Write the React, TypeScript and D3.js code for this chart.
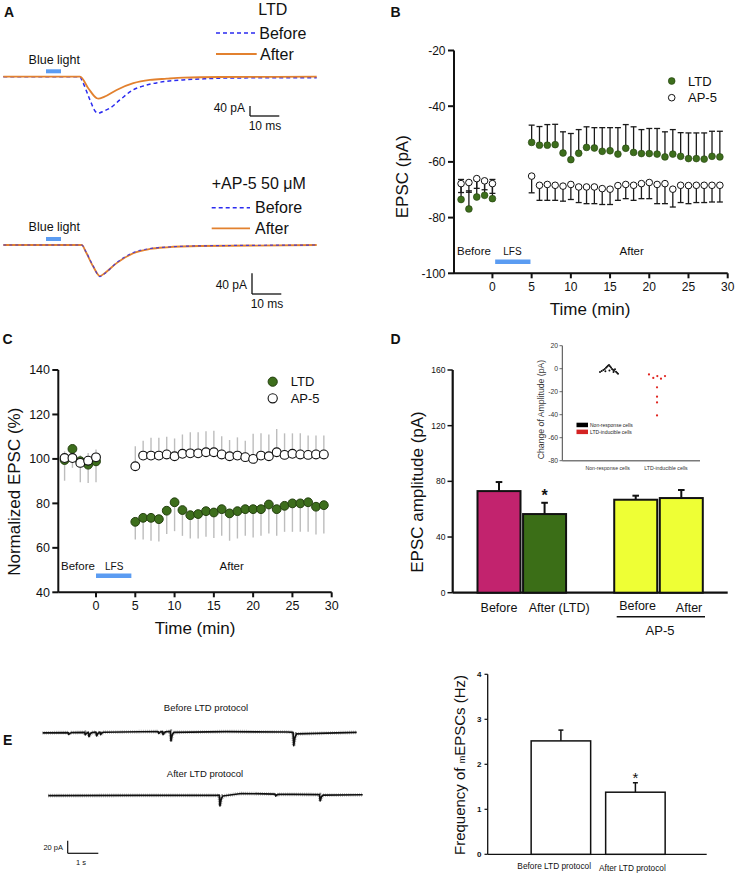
import React from 'react';
import * as d3 from 'd3';

const FONT = '"Liberation Sans", Arial, Helvetica, sans-serif';
const LIGHT_BLUE = '#5b9cf2';
const GREEN = '#3d6e1c';
const GREEN_EDGE = '#24400f';
const ORANGE = '#e2812f';
const DASH_BLUE = '#2b2bf0';

// ---------------- Panel A: evoked EPSC traces (time in ms, current in pA) ----------------
const aTopBeforeMs = [0, 26.2, 26.8, 29.6, 31.3, 32.4, 34.4, 36.4, 39.8, 44.3, 47.8, 53.5, 61.3, 69.4, 78.4, 107];
const aTopBeforePA = [0, 0, -13, -93, -137, -146, -137, -126, -93, -53, -37, -22, -13, -8, -5, -4];
const aTopAfterMs = [0, 26.2, 29.0, 31.9, 32.4, 34.4, 38.7, 44.4, 50.1, 55.8, 61.4, 74, 107];
const aTopAfterPA = [0, 0, -46, -86, -88, -81, -53, -26, -13, -8, -4, -1.2, 0];
const aBotMs = [0, 26.8, 28.2, 30.6, 33.0, 34.7, 38.7, 44.4, 50.1, 55.8, 67.1, 107];
const aBotBeforePA = [0, 0, -12.6, -39.6, -61, -55, -34, -14.5, -6.8, -4, -1.7, 0];
const aBotAfterPA = [0, 0, -13.5, -40.6, -60, -54, -35, -16, -7.7, -4.4, -1.9, 0];

// ---------------- Panel B: EPSC (pA) over time ----------------
const timeBefore = [-4, -3, -2, -1, 0];
const timeAfter = [5, 6, 7, 8, 9, 10, 11, 12, 13, 14, 15, 16, 17, 18, 19, 20, 21, 22, 23, 24, 25, 26, 27, 28, 29];
const bTicksY = [-100, -80, -60, -40, -20];
const xTicksTime = [0, 5, 10, 15, 20, 25, 30];
const bLtdBefore = [-73.5, -76.9, -72.6, -72.0, -73.2];
const bLtdBeforeSem = [7.2, 6.5, 6.0, 5.5, 6.9];
const bAp5Before = [-67.8, -67.4, -66.0, -66.8, -67.8];
const bAp5BeforeSem = [3.2, 3.5, 3.5, 3.2, 3.5];
const bLtdAfter = [-53.0, -54.0, -54.0, -53.8, -56.8, -59.2, -56.9, -54.8, -55.0, -56.2, -56.0, -57.2, -55.1, -56.6, -57.0, -57.0, -57.2, -58.2, -57.2, -58.0, -58.8, -58.8, -59.0, -58.0, -58.2];
const bLtdAfterSem = [6.2, 6.7, 7.4, 7.3, 7.6, 9.4, 8.5, 7.4, 7.3, 8.5, 8.3, 9.5, 8.5, 9.2, 8.6, 9.0, 9.2, 9.0, 8.8, 8.5, 9.2, 9.2, 9.4, 9.0, 9.2];
const bAp5After = [-65.1, -68.4, -68.1, -68.4, -68.7, -68.1, -69.0, -69.0, -69.0, -69.6, -69.8, -68.5, -68.1, -68.4, -67.8, -67.4, -68.1, -67.8, -69.8, -68.4, -68.5, -68.4, -68.4, -68.4, -68.4];
const bAp5AfterSem = [6.0, 5.4, 5.7, 5.4, 5.4, 5.4, 5.6, 6.0, 6.0, 5.7, 5.5, 5.3, 5.1, 5.4, 5.4, 5.8, 6.9, 7.2, 6.4, 6.2, 6.5, 6.2, 6.2, 6.0, 6.0];

// ---------------- Panel C: normalized EPSC (%) ----------------
const cTicksY = [40, 60, 80, 100, 120, 140];
const cLtdBefore = [99.5, 104.5, 99.0, 97.4, 98.9];
const cLtdBeforeSem = [9.3, 8.5, 9.5, 8.2, 9.4];
const cAp5Before = [100.4, 100.4, 98.2, 99.2, 100.7];
const cAp5BeforeSem = [3, 3, 3.5, 3.5, 3.5];
const cLtdAfter = [71.7, 73.5, 73.5, 72.9, 76.7, 80.5, 77.0, 74.7, 75.2, 76.5, 75.9, 77.4, 75.5, 76.5, 77.4, 77.4, 77.4, 79.5, 77.4, 78.9, 80.0, 80.0, 80.5, 78.5, 79.2];
const cLtdAfterSem = [8, 9.7, 10.3, 10, 10.5, 13, 11.6, 10.5, 11, 11.5, 11.5, 12, 12.3, 12.3, 12, 12.8, 12, 13, 12, 11.7, 12.8, 12.8, 13.3, 12.5, 12.7];
const cAp5After = [96.7, 101.5, 101.5, 101.5, 102, 101.2, 102.3, 102.5, 102.5, 103, 103, 102, 101.2, 101.5, 100.8, 100, 101.5, 101.2, 103, 101.8, 102.3, 102, 101.8, 102, 102];
const cAp5AfterSem = [9, 6.7, 8, 8, 8, 8, 8.7, 9.5, 9.5, 9.4, 9.7, 8.2, 7.3, 8.2, 7.4, 11.3, 10, 9.8, 10.5, 9.7, 9.2, 9.5, 8.7, 8.5, 8.5];

// ---------------- Panel D: EPSC amplitude bars + inset ----------------
const dLabels = ['Before', 'After (LTD)', 'Before', 'After'];
const dSlots = [0, 1, 3, 4];
const dLabelShift = [0, 0.32, 0.04, 0.17];
const dValues = [73.0, 56.5, 66.8, 68.0];
const dSem = [6.5, 8.1, 2.9, 5.8];
const dColors = ['#c2236e', '#3b6e17', '#eeff35', '#eeff35'];
const dTicksY = [0, 40, 80, 120, 160];
const insetTicksY = [-80, -60, -40, -20, 0, 20];
const insetCats = ['Non-response cells', 'LTD-inducible cells'];
const insetBlackX = [-0.132, -0.103, -0.075, -0.051, -0.029, -0.012, 0.005, 0.022, 0.039, 0.057, 0.074, 0.091, 0.108, 0.125, 0.142, 0.16, 0.177, 0.03, -0.04, 0.1];
const insetBlackVal = [-2.9, -2.0, -1.2, -0.3, 0.8, 1.6, 2.6, 3.3, 2.2, 1.0, -0.2, -1.0, -1.8, -0.5, -2.6, -3.5, -4.3, -1.5, -2.2, -2.8];
const insetRedX = [0.708, 0.782, 0.851, 0.914, 0.983, 0.846, 0.846, 0.846, 0.846];
const insetRedVal = [-5, -8, -6.4, -8.7, -6.4, -16.2, -24.3, -29.3, -40.6];

// ---------------- Panel E: mEPSC traces and frequency ----------------
const eDurS = 10.26;
const eBeforeBaseT = [0, 2, 4.3, 6, 8, 8.3, 10.26];
const eBeforeBasePA = [-1, 0.5, 1.5, 1, 0.5, -0.5, 0];
const eBeforeEventT = [0.84, 1.38, 1.5, 1.75, 1.88, 3.78, 3.92, 4.18, 8.19];
const eBeforeEventPA = [3, 4, 7, 6, 4, 3, 5, 15, 21];
const eAfterBaseT = [0, 3, 5.5, 6.3, 8, 10.26];
const eAfterBasePA = [0, 0.5, 0.5, 3.5, 2, 1.5];
const eAfterEventT = [5.59, 7.41, 8.86];
const eAfterEventPA = [17, 3, 10];
const eLabels = ['Before LTD protocol', 'After LTD protocol'];
const eLabelShift = [-0.09, -0.04];
const eFreq = [2.52, 1.38];
const eFreqSem = [0.24, 0.21];
const eTicksY = [0, 1, 2, 3, 4];

function buildTrace(baseT: number[], basePA: number[], evT: number[], evPA: number[]) {
  const base = d3.scaleLinear().domain(baseT).range(basePA);
  const pts: [number, number][] = [];
  const inEvent = (t: number) => evT.some(e => t > e - 0.02 && t < e + 0.13);
  baseT.forEach((t, i) => { if (!inEvent(t)) pts.push([t, basePA[i]]); });
  evT.forEach((t, i) => {
    const a = evPA[i];
    pts.push([t - 0.01, base(t - 0.01)]);
    pts.push([t + 0.012, base(t) - a]);
    pts.push([t + 0.05, base(t + 0.05) - a * 0.4]);
    pts.push([t + 0.1, base(t + 0.1) - a * 0.1]);
  });
  pts.sort((p, q) => p[0] - q[0]);
  return pts;
}

const Txt = (p: any) => <text fontFamily={FONT} fill="#111" {...p} />;

export default function App() {
  // ---- A ----
  const xA = d3.scaleLinear().domain([0, 107]).range([3.3, 316.7]);
  const yATop = d3.scaleLinear().domain([-160, 0]).range([116.7, 76.7]);
  const yABot = d3.scaleLinear().domain([-60, 0]).range([276.05, 245]);
  const traceA = (ms: number[], pa: number[], y: any) =>
    d3.line<number>().x((_, i) => xA(ms[i])).y((_, i) => y(pa[i])).curve(d3.curveMonotoneX)(ms) || '';

  // ---- B ----
  const xB = d3.scaleLinear().domain([-4.9, 30]).range([454, 727.7]);
  const yB = d3.scaleLinear().domain([-100, -20]).range([273.3, 50.5]);
  // ---- C ----
  const xC = d3.scaleLinear().domain([-4.8, 30]).range([58.3, 331.7]);
  const yC = d3.scaleLinear().domain([40, 140]).range([592.3, 370]);
  // ---- D ----
  const xD = d3.scaleLinear().domain([0, 4]).range([499, 681.3]);
  const yD = d3.scaleLinear().domain([0, 160]).range([592.7, 370]);
  const dBarW = 43;
  const xI = d3.scaleLinear().domain([0, 1]).range([607.7, 666]);
  const yI = d3.scaleLinear().domain([-80, 20]).range([460.7, 345.7]);
  // ---- E ----
  const xE1 = d3.scaleLinear().domain([0, eDurS]).range([42.7, 356.7]);
  const xE2 = d3.scaleLinear().domain([0, eDurS]).range([48.3, 362.7]);
  const yE1 = d3.scaleLinear().domain([-20, 0]).range([744.9, 732.3]);
  const yE2 = d3.scaleLinear().domain([-20, 0]).range([808.3, 795.7]);
  const tr1 = buildTrace(eBeforeBaseT, eBeforeBasePA, eBeforeEventT, eBeforeEventPA);
  const tr2 = buildTrace(eAfterBaseT, eAfterBasePA, eAfterEventT, eAfterEventPA);
  const pathE1 = d3.line<[number, number]>().x(d => xE1(d[0])).y(d => yE1(d[1]))(tr1) || '';
  const pathE2 = d3.line<[number, number]>().x(d => xE2(d[0])).y(d => yE2(d[1]))(tr2) || '';
  const xER = d3.scaleLinear().domain([0, 1]).range([560.9, 635.4]);
  const yER = d3.scaleLinear().domain([0, 4]).range([854.3, 674.3]);
  const eBarW = 59.5;

  const errB = (xs: number[], vals: number[], sem: number[], dir: number, key: string) =>
    xs.map((t, i) => {
      const x = xB(t);
      const y0 = yB(vals[i]);
      const y1 = yB(vals[i] + dir * sem[i]);
      return (
        <g key={key + i} stroke="#1a1a1a" strokeWidth={1.3}>
          <line x1={x} x2={x} y1={y0} y2={y1} />
          <line x1={x - 3} x2={x + 3} y1={y1} y2={y1} />
        </g>
      );
    });
  const errC = (xs: number[], vals: number[], sem: number[], dir: number, key: string) =>
    xs.map((t, i) => (
      <line key={key + i} x1={xC(t)} x2={xC(t)} y1={yC(vals[i])} y2={yC(vals[i] + dir * sem[i])} stroke="#bdbdbd" strokeWidth={1.4} />
    ));

  return (
    <svg width={736} height={874} style={{ position: 'absolute', left: 0, top: 0, background: '#fff' }}>
      <rect x={0} y={0} width={736} height={874} fill="#fff" />
      {/* panel letters */}
      <Txt x={4} y={16.5} fontSize={14} fontWeight="bold">A</Txt>
      <Txt x={390.5} y={16.5} fontSize={14} fontWeight="bold">B</Txt>
      <Txt x={2.5} y={344} fontSize={14} fontWeight="bold">C</Txt>
      <Txt x={390.5} y={344} fontSize={14} fontWeight="bold">D</Txt>
      <Txt x={3} y={745} fontSize={14} fontWeight="bold">E</Txt>

      {/* ================= A ================= */}
      <Txt x={258.3} y={14.7} fontSize={16}>LTD</Txt>
      <line x1={216} x2={256.7} y1={33} y2={33} stroke={DASH_BLUE} strokeWidth={1.5} strokeDasharray="4 3" />
      <Txt x={259.3} y={39} fontSize={16}>Before</Txt>
      <line x1={216} x2={256.7} y1={54} y2={54} stroke={ORANGE} strokeWidth={1.8} />
      <Txt x={260} y={59.7} fontSize={16}>After</Txt>
      <rect x={46} y={69.3} width={15} height={4} fill={LIGHT_BLUE} />
      <Txt x={54.3} y={63.5} fontSize={12.5} textAnchor="middle">Blue light</Txt>
      <path d={traceA(aTopBeforeMs, aTopBeforePA, yATop)} fill="none" stroke={DASH_BLUE} strokeWidth={1.5} strokeDasharray="4 3" />
      <path d={traceA(aTopAfterMs, aTopAfterPA, yATop)} fill="none" stroke={ORANGE} strokeWidth={1.8} />
      <line x1={250} x2={250} y1={106} y2={106 + (yATop(-40) - yATop(0))} stroke="#111" strokeWidth={1.3} />
      <line x1={250} x2={250 + (xA(10) - xA(0))} y1={106 + (yATop(-40) - yATop(0))} y2={106 + (yATop(-40) - yATop(0))} stroke="#111" strokeWidth={1.3} />
      <Txt x={245} y={112} fontSize={12} textAnchor="end">40 pA</Txt>
      <Txt x={265} y={130.3} fontSize={12} textAnchor="middle">10 ms</Txt>

      <Txt x={211.7} y={189} fontSize={16}>+AP-5 50 μM</Txt>
      <line x1={211.7} x2={250} y1={207.7} y2={207.7} stroke={DASH_BLUE} strokeWidth={1.5} strokeDasharray="4 3" />
      <Txt x={255} y={213.4} fontSize={16}>Before</Txt>
      <line x1={211.7} x2={250} y1={228.3} y2={228.3} stroke={ORANGE} strokeWidth={1.8} />
      <Txt x={255} y={234} fontSize={16}>After</Txt>
      <rect x={46} y={237} width={15} height={4} fill={LIGHT_BLUE} />
      <Txt x={54.3} y={230.5} fontSize={12.5} textAnchor="middle">Blue light</Txt>
      <path d={traceA(aBotMs, aBotAfterPA, yABot)} fill="none" stroke={ORANGE} strokeWidth={1.8} />
      <path d={traceA(aBotMs, aBotBeforePA, yABot)} fill="none" stroke={DASH_BLUE} strokeWidth={1.2} strokeDasharray="3 3" opacity={0.8} />
      <line x1={252} x2={252} y1={273.3} y2={273.3 + (yABot(-40) - yABot(0))} stroke="#111" strokeWidth={1.3} />
      <line x1={252} x2={252 + (xA(10) - xA(0))} y1={273.3 + (yABot(-40) - yABot(0))} y2={273.3 + (yABot(-40) - yABot(0))} stroke="#111" strokeWidth={1.3} />
      <Txt x={247} y={289} fontSize={12} textAnchor="end">40 pA</Txt>
      <Txt x={267} y={308.3} fontSize={12} textAnchor="middle">10 ms</Txt>

      {/* ================= B ================= */}
      <line x1={xB(-4.9)} x2={xB(-4.9)} y1={yB(-20)} y2={yB(-100)} stroke="#111" strokeWidth={2} />
      <line x1={xB(-4.9)} x2={xB(30)} y1={yB(-100)} y2={yB(-100)} stroke="#111" strokeWidth={2} />
      {bTicksY.map(v => (
        <g key={'by' + v}>
          <line x1={xB(-4.9) - 6} x2={xB(-4.9)} y1={yB(v)} y2={yB(v)} stroke="#111" strokeWidth={2} />
          <Txt x={445.5} y={yB(v) + 4.3} fontSize={12} textAnchor="end">{v}</Txt>
        </g>
      ))}
      {xTicksTime.map(v => (
        <g key={'bx' + v}>
          <line x1={xB(v)} x2={xB(v)} y1={yB(-100)} y2={yB(-100) + 5} stroke="#111" strokeWidth={2} />
          <Txt x={xB(v)} y={291} fontSize={12} textAnchor="middle">{v}</Txt>
        </g>
      ))}
      <Txt transform="translate(408.3,176.7) rotate(-90)" fontSize={17} textAnchor="middle">EPSC (pA)</Txt>
      <Txt x={590} y={315} fontSize={17} textAnchor="middle">Time (min)</Txt>
      {errB(timeBefore, bLtdBefore, bLtdBeforeSem, 1, 'ebl')}
      {errB(timeAfter, bLtdAfter, bLtdAfterSem, 1, 'eal')}
      {errB(timeBefore, bAp5Before, bAp5BeforeSem, -1, 'ebp')}
      {errB(timeAfter, bAp5After, bAp5AfterSem, -1, 'eap')}
      {timeBefore.map((t, i) => <circle key={'bbl' + i} cx={xB(t)} cy={yB(bLtdBefore[i])} r={3.4} fill={GREEN} stroke={GREEN_EDGE} strokeWidth={0.6} />)}
      {timeAfter.map((t, i) => <circle key={'bal' + i} cx={xB(t)} cy={yB(bLtdAfter[i])} r={3.4} fill={GREEN} stroke={GREEN_EDGE} strokeWidth={0.6} />)}
      {timeBefore.map((t, i) => <circle key={'bbp' + i} cx={xB(t)} cy={yB(bAp5Before[i])} r={3.3} fill="#fff" stroke="#111" strokeWidth={1} />)}
      {timeAfter.map((t, i) => <circle key={'bap' + i} cx={xB(t)} cy={yB(bAp5After[i])} r={3.3} fill="#fff" stroke="#111" strokeWidth={1} />)}
      <circle cx={671.7} cy={81} r={3.4} fill={GREEN} stroke={GREEN_EDGE} strokeWidth={0.6} />
      <Txt x={688} y={85.6} fontSize={13}>LTD</Txt>
      <circle cx={671.7} cy={97.7} r={3.3} fill="#fff" stroke="#111" strokeWidth={1} />
      <Txt x={688} y={102.3} fontSize={13}>AP-5</Txt>
      <Txt x={457} y={255} fontSize={11.5}>Before</Txt>
      <Txt x={503.3} y={254.5} fontSize={10}>LFS</Txt>
      <rect x={xB(0.35)} y={259.5} width={xB(4.85) - xB(0.35)} height={4.5} fill={LIGHT_BLUE} />
      <Txt x={631.7} y={255} fontSize={11.5} textAnchor="middle">After</Txt>

      {/* ================= C ================= */}
      <line x1={xC(-4.8)} x2={xC(-4.8)} y1={yC(140)} y2={yC(40)} stroke="#111" strokeWidth={2} />
      <line x1={xC(-4.8)} x2={xC(30)} y1={yC(40)} y2={yC(40)} stroke="#111" strokeWidth={2} />
      {cTicksY.map(v => (
        <g key={'cy' + v}>
          <line x1={xC(-4.8) - 6} x2={xC(-4.8)} y1={yC(v)} y2={yC(v)} stroke="#111" strokeWidth={2} />
          <Txt x={50} y={yC(v) + 4.4} fontSize={12.5} textAnchor="end">{v}</Txt>
        </g>
      ))}
      {xTicksTime.map(v => (
        <g key={'cx' + v}>
          <line x1={xC(v)} x2={xC(v)} y1={yC(40)} y2={yC(40) + 5} stroke="#111" strokeWidth={2} />
          <Txt x={xC(v)} y={610} fontSize={12.5} textAnchor="middle">{v}</Txt>
        </g>
      ))}
      <Txt transform="translate(20,491.7) rotate(-90)" fontSize={17} textAnchor="middle">Normalized EPSC (%)</Txt>
      <Txt x={195} y={634} fontSize={17} textAnchor="middle">Time (min)</Txt>
      {errC(timeBefore, cLtdBefore, cLtdBeforeSem, -1, 'cbl')}
      {errC(timeAfter, cLtdAfter, cLtdAfterSem, -1, 'cal')}
      {errC(timeBefore, cAp5Before, cAp5BeforeSem, 1, 'cbp')}
      {errC(timeAfter, cAp5After, cAp5AfterSem, 1, 'cap')}
      {timeBefore.map((t, i) => <circle key={'cbl' + i} cx={xC(t)} cy={yC(cLtdBefore[i])} r={4.4} fill={GREEN} stroke={GREEN_EDGE} strokeWidth={1} />)}
      {timeAfter.map((t, i) => <circle key={'cal' + i} cx={xC(t)} cy={yC(cLtdAfter[i])} r={4.4} fill={GREEN} stroke={GREEN_EDGE} strokeWidth={1} />)}
      {timeBefore.map((t, i) => <circle key={'cbp' + i} cx={xC(t)} cy={yC(cAp5Before[i])} r={4.4} fill="#fff" stroke="#111" strokeWidth={1.1} />)}
      {timeAfter.map((t, i) => <circle key={'cap' + i} cx={xC(t)} cy={yC(cAp5After[i])} r={4.4} fill="#fff" stroke="#111" strokeWidth={1.1} />)}
      <circle cx={272.7} cy={381.7} r={4.6} fill={GREEN} stroke={GREEN_EDGE} strokeWidth={1} />
      <Txt x={290.7} y={386.4} fontSize={13}>LTD</Txt>
      <circle cx={272.7} cy={398.3} r={4.6} fill="#fff" stroke="#111" strokeWidth={1.1} />
      <Txt x={290.7} y={403} fontSize={13}>AP-5</Txt>
      <Txt x={61} y={570} fontSize={11.5}>Before</Txt>
      <Txt x={105} y={569.5} fontSize={10}>LFS</Txt>
      <rect x={xC(0)} y={573.5} width={xC(4.5) - xC(0)} height={4.5} fill={LIGHT_BLUE} />
      <Txt x={231.7} y={570} fontSize={11.5} textAnchor="middle">After</Txt>

      {/* ================= D ================= */}
      <line x1={452.7} x2={452.7} y1={yD(160)} y2={yD(0)} stroke="#111" strokeWidth={2.2} />
      <line x1={452.7} x2={727.7} y1={yD(0)} y2={yD(0)} stroke="#111" strokeWidth={2.2} />
      {dTicksY.map(v => (
        <g key={'dy' + v}>
          <line x1={447.5} x2={452.7} y1={yD(v)} y2={yD(v)} stroke="#111" strokeWidth={1.5} />
          <Txt x={445.5} y={yD(v) + 3} fontSize={8.5} textAnchor="end">{v}</Txt>
        </g>
      ))}
      <Txt transform="translate(423.3,492) rotate(-90)" fontSize={17} textAnchor="middle">EPSC amplitude (pA)</Txt>
      {dValues.map((v, i) => {
        const cx = xD(dSlots[i]);
        const top = yD(v);
        const et = yD(v + dSem[i]);
        return (
          <g key={'db' + i}>
            <line x1={cx} x2={cx} y1={top} y2={et} stroke="#111" strokeWidth={2} />
            <line x1={cx - 3.3} x2={cx + 3.3} y1={et} y2={et} stroke="#111" strokeWidth={2} />
            <rect x={cx - dBarW / 2} y={top} width={dBarW} height={yD(0) - top} fill={dColors[i]} stroke="#111" strokeWidth={2} />
          </g>
        );
      })}
      <Txt x={xD(1)} y={501} fontSize={16} fontWeight="bold" textAnchor="middle">*</Txt>
      {dLabels.map((l, i) => (
        <Txt key={'dl' + i} x={xD(dSlots[i] + dLabelShift[i])} y={i === 2 ? 610 : 611.5} fontSize={12.5} textAnchor="middle">{l}</Txt>
      ))}
      <line x1={616.7} x2={705} y1={616.7} y2={616.7} stroke="#111" strokeWidth={1.5} />
      <Txt x={660} y={634.5} fontSize={13} textAnchor="middle">AP-5</Txt>

      {/* inset */}
      <line x1={562.3} x2={562.3} y1={yI(20)} y2={yI(-80)} stroke="#444" strokeWidth={1} />
      <line x1={562.3} x2={700} y1={yI(-80)} y2={yI(-80)} stroke="#7a7a7a" strokeWidth={1.5} />
      {insetTicksY.map(v => (
        <g key={'iy' + v}>
          <line x1={559.5} x2={562.3} y1={yI(v)} y2={yI(v)} stroke="#444" strokeWidth={0.8} />
          <Txt x={558} y={yI(v) + 2.4} fontSize={6.8} textAnchor="end" fill="#333">{v}</Txt>
        </g>
      ))}
      <Txt transform="translate(544,409.5) rotate(-90)" fontSize={8.7} textAnchor="middle" fill="#333">Change of Amplitude (pA)</Txt>
      {insetCats.map((c, i) => (
        <Txt key={'ic' + i} x={xI(i)} y={470} fontSize={5.2} textAnchor="middle" fill="#333">{c}</Txt>
      ))}
      {insetBlackVal.map((v, i) => <circle key={'ib' + i} cx={xI(insetBlackX[i])} cy={yI(v)} r={1} fill="#111" />)}
      {insetRedVal.map((v, i) => <circle key={'ir' + i} cx={xI(insetRedX[i])} cy={yI(v)} r={1.1} fill="#e0241f" />)}
      <rect x={576.5} y={422.7} width={11.5} height={4.5} fill="#000" />
      <Txt x={590} y={427} fontSize={5} fill="#222">Non-response cells</Txt>
      <rect x={576.5} y={429.6} width={11.5} height={4.5} fill="#d42323" />
      <Txt x={590} y={434} fontSize={5} fill="#222">LTD-inducible cells</Txt>

      {/* ================= E ================= */}
      <Txt x={206} y={710.7} fontSize={9.5} textAnchor="middle">Before LTD protocol</Txt>
      <Txt x={205} y={777.4} fontSize={9.5} textAnchor="middle">After LTD protocol</Txt>
      <path d={pathE1} fill="none" stroke="#111" strokeWidth={1.7} strokeLinejoin="round" />
      <path d={pathE1} fill="none" stroke="#111" strokeWidth={3.8} strokeDasharray="0.5 1.4" opacity={0.5} />
      <path d={pathE2} fill="none" stroke="#111" strokeWidth={1.7} strokeLinejoin="round" />
      <path d={pathE2} fill="none" stroke="#111" strokeWidth={3.8} strokeDasharray="0.5 1.4" opacity={0.5} />
      <line x1={67.7} x2={67.7} y1={840.7} y2={840.7 + (yE1(-20) - yE1(0))} stroke="#111" strokeWidth={1.2} />
      <line x1={67.7} x2={67.7 + (xE1(1) - xE1(0))} y1={840.7 + (yE1(-20) - yE1(0))} y2={840.7 + (yE1(-20) - yE1(0))} stroke="#111" strokeWidth={1.2} />
      <Txt x={63} y={850} fontSize={7.5} textAnchor="end">20 pA</Txt>
      <Txt x={81} y={865} fontSize={7.5} textAnchor="middle">1 s</Txt>

      <line x1={487.7} x2={487.7} y1={yER(4)} y2={yER(0)} stroke="#111" strokeWidth={1.3} />
      <line x1={487.7} x2={706.7} y1={yER(0)} y2={yER(0)} stroke="#111" strokeWidth={1.3} />
      {eTicksY.map(v => (
        <g key={'ey' + v}>
          <line x1={484.5} x2={487.7} y1={yER(v)} y2={yER(v)} stroke="#111" strokeWidth={1.2} />
          <Txt x={481.5} y={yER(v) + 3} fontSize={8} fontWeight="bold" textAnchor="end">{v}</Txt>
        </g>
      ))}
      <Txt transform="translate(465,765) rotate(-90)" fontSize={15} textAnchor="middle">
        Frequency of <tspan fontSize={9}>m</tspan>EPSCs (Hz)
      </Txt>
      {eFreq.map((v, i) => {
        const cx = xER(i);
        const top = yER(v);
        const et = yER(v + eFreqSem[i]);
        return (
          <g key={'eb' + i}>
            <line x1={cx} x2={cx} y1={top} y2={et} stroke="#111" strokeWidth={1.5} />
            <line x1={cx - 2.5} x2={cx + 2.5} y1={et} y2={et} stroke="#111" strokeWidth={1.5} />
            <rect x={cx - eBarW / 2} y={top} width={eBarW} height={yER(0) - top} fill="#fff" stroke="#111" strokeWidth={1.5} />
          </g>
        );
      })}
      <Txt x={xER(1)} y={783} fontSize={15} textAnchor="middle">*</Txt>
      {eLabels.map((l, i) => (
        <Txt key={'el' + i} x={xER(i + eLabelShift[i])} y={869 + 2 * i} fontSize={8.3} textAnchor="middle">{l}</Txt>
      ))}
    </svg>
  );
}
